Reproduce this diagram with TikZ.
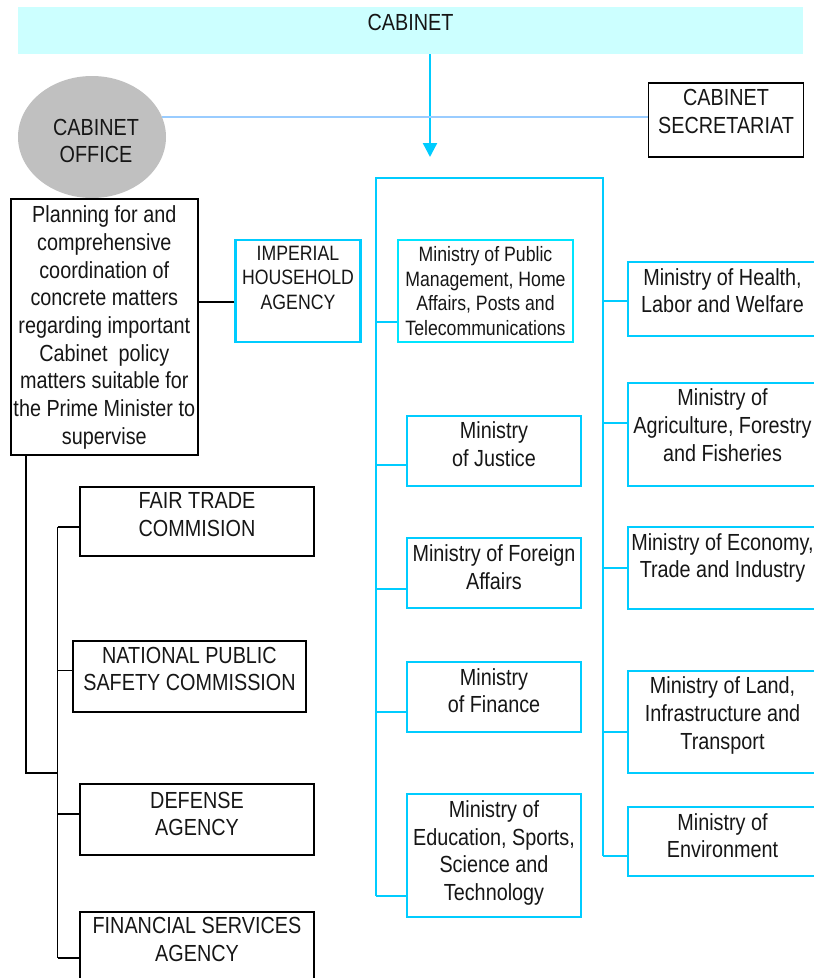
\documentclass[tikz,border=0pt]{standalone}
\usepackage{fontspec}
\setmainfont{Liberation Sans}[FakeStretch=0.85]
\usetikzlibrary{positioning,arrows.meta,shapes.geometric}
\usepackage{xcolor}
\definecolor{cabBanner}{RGB}{204,255,255}
\definecolor{cabGray}{RGB}{192,192,192}
\definecolor{cabCyan}{RGB}{0,204,255}
\definecolor{cabAqua}{RGB}{0,229,255}
\definecolor{cabSky}{RGB}{153,204,255}
\definecolor{cabInk}{RGB}{22,22,22}
\newcommand{\cabBig}{\fontsize{23.3}{27.7}\selectfont}
\newcommand{\cabSmall}{\fontsize{20.8}{24.6}\selectfont}
\tikzset{
  blkbox/.style={draw=black, line width=1.8pt, inner sep=0pt},
  cybox/.style={draw=cabCyan, line width=2.4pt, inner sep=0pt},
  intxt/.style={anchor=north, align=center, inner sep=0pt, text=cabInk, font=\cabBig},
  blkline/.style={draw=black, line width=1.8pt},
  cyline/.style={draw=cabCyan, line width=2.4pt},
}

\begin{document}
\begin{tikzpicture}[x=1pt, y=-1pt]
  \useasboundingbox (0,0) rectangle (814,978);

  % top row
  \node[fill=cabBanner, minimum width=785, minimum height=47, inner sep=0pt,
        label={[intxt, yshift=-7]north:CABINET}] (banner) at (410.5,30.5) {};
  \node[ellipse, fill=cabGray, minimum width=148, minimum height=122, inner sep=0pt,
        label={[intxt, xshift=4, yshift=-43]north:CABINET\\OFFICE}] (office) at (92,137) {};
  \node[blkbox, minimum width=155, minimum height=74,
        label={[intxt, yshift=-7]north:CABINET\\SECRETARIAT}] (secret) at (726,120) {};
  \coordinate (arrtip) at (430,157);
  \draw[cyline, -{Triangle[width=14pt,length=14pt]}] (banner.south -| arrtip) -- (arrtip);
  \draw[draw=cabSky, line width=2.6pt] (office.16.4) -- (office.16.4 -| secret.west);

  % cabinet office side
  \node[blkbox, minimum width=187.3, minimum height=256,
        label={[intxt, yshift=-7.5]north:Planning for and\\comprehensive\\coordination of\\concrete matters\\regarding important\\Cabinet\ \ policy\\matters suitable for\\the Prime Minister to\\supervise}] (planning) at (104.3,327) {};
  \node[cybox, minimum width=124.7, minimum height=102,
        label={[intxt, font=\cabSmall, yshift=-7]north:IMPERIAL\\HOUSEHOLD\\AGENCY}] (imperial) at (298,291) {};
  \draw[blkline] ([yshift=-11]imperial.west) -- ([yshift=-11]imperial.west -| planning.east);

  \node[blkbox, minimum width=234, minimum height=69,
        label={[intxt, yshift=-6]north:FAIR TRADE\\COMMISION}] (fair) at (197,521.5) {};
  \node[blkbox, minimum width=233, minimum height=71,
        label={[intxt, yshift=-6.5]north:NATIONAL PUBLIC\\SAFETY COMMISSION}] (national) at (189.5,676.5) {};
  \node[blkbox, minimum width=234, minimum height=71,
        label={[intxt, yshift=-8.5]north:DEFENSE\\AGENCY}] (defense) at (197,819.5) {};
  \node[blkbox, minimum width=234, minimum height=78,
        label={[intxt, yshift=-6.3]north:FINANCIAL SERVICES\\AGENCY}] (finsvc) at (197,951) {};

  \coordinate (jct) at (26,773);
  \coordinate (blktop) at (57.5,527);
  \coordinate (blkbot) at (57.5,958);
  \draw[blkline] (planning.south -| jct) -- (jct) -- (jct -| blktop);
  \draw[blkline] (blktop) -- (blkbot);
  \draw[blkline] (blktop) -- (blktop -| fair.west);
  \draw[blkline] ([yshift=6]national.west) -- ([yshift=6]national.west -| blktop);
  \draw[blkline] ([yshift=5.5]defense.west) -- ([yshift=5.5]defense.west -| blktop);
  \draw[blkline] (blkbot) -- (blkbot -| finsvc.west);

  % ministries, first column
  \node[cybox, draw=cabAqua, minimum width=175, minimum height=102,
        label={[intxt, font=\cabSmall, yshift=-7.7]north:Ministry of Public\\Management, Home\\Affairs, Posts and\\Telecommunications}] (pubmgmt) at (485.5,291) {};
  \node[cybox, minimum width=174, minimum height=70,
        label={[intxt, yshift=-6.7]north:Ministry\\of Justice}] (justice) at (494,451) {};
  \node[cybox, minimum width=174, minimum height=70,
        label={[intxt, yshift=-7.7]north:Ministry of Foreign\\Affairs}] (foreign) at (494,573) {};
  \node[cybox, minimum width=174, minimum height=70,
        label={[intxt, yshift=-7.3]north:Ministry\\of Finance}] (finance) at (494,697) {};
  \node[cybox, minimum width=174, minimum height=123,
        label={[intxt, yshift=-7.7]north:{Ministry of\\Education, Sports,\\Science and\\Technology}}] (educ) at (494,855.5) {};

  % ministries, second column
  \node[cybox, minimum width=189, minimum height=74,
        label={[intxt, yshift=-7.3]north:{Ministry of Health,\\Labor and Welfare}}] (health) at (722.5,299) {};
  \node[cybox, minimum width=189, minimum height=103,
        label={[intxt, yshift=-7]north:{Ministry of\\Agriculture, Forestry\\and Fisheries}}] (agri) at (722.5,434.5) {};
  \node[cybox, minimum width=189, minimum height=82,
        label={[intxt, yshift=-7.3]north:{Ministry of Economy,\\Trade and Industry}}] (econ) at (722.5,568) {};
  \node[cybox, minimum width=189, minimum height=102,
        label={[intxt, yshift=-7]north:{Ministry of Land,\\Infrastructure and\\Transport}}] (land) at (722.5,722) {};
  \node[cybox, minimum width=189, minimum height=69,
        label={[intxt, yshift=-7.3]north:Ministry of\\Environment}] (envir) at (722.5,841.5) {};

  \coordinate (lsp) at (376,178);
  \coordinate (rsp) at (603,178);
  \draw[cyline] ([yshift=-40.5]educ.west -| lsp) -- (lsp) -- (rsp) -- ([yshift=-14.5]envir.west -| rsp);
  \draw[cyline] ([yshift=-31]pubmgmt.west) -- ([yshift=-31]pubmgmt.west -| lsp);
  \draw[cyline] ([yshift=-14]justice.west) -- ([yshift=-14]justice.west -| lsp);
  \draw[cyline] ([yshift=-16]foreign.west) -- ([yshift=-16]foreign.west -| lsp);
  \draw[cyline] ([yshift=-15]finance.west) -- ([yshift=-15]finance.west -| lsp);
  \draw[cyline] ([yshift=-40.5]educ.west) -- ([yshift=-40.5]educ.west -| lsp);
  \draw[cyline] ([yshift=-2]health.west) -- ([yshift=-2]health.west -| rsp);
  \draw[cyline] ([yshift=11.5]agri.west) -- ([yshift=11.5]agri.west -| rsp);
  \draw[cyline] (econ.west) -- (econ.west -| rsp);
  \draw[cyline] ([yshift=-10]land.west) -- ([yshift=-10]land.west -| rsp);
  \draw[cyline] ([yshift=-14.5]envir.west) -- ([yshift=-14.5]envir.west -| rsp);
\end{tikzpicture}
\end{document}
